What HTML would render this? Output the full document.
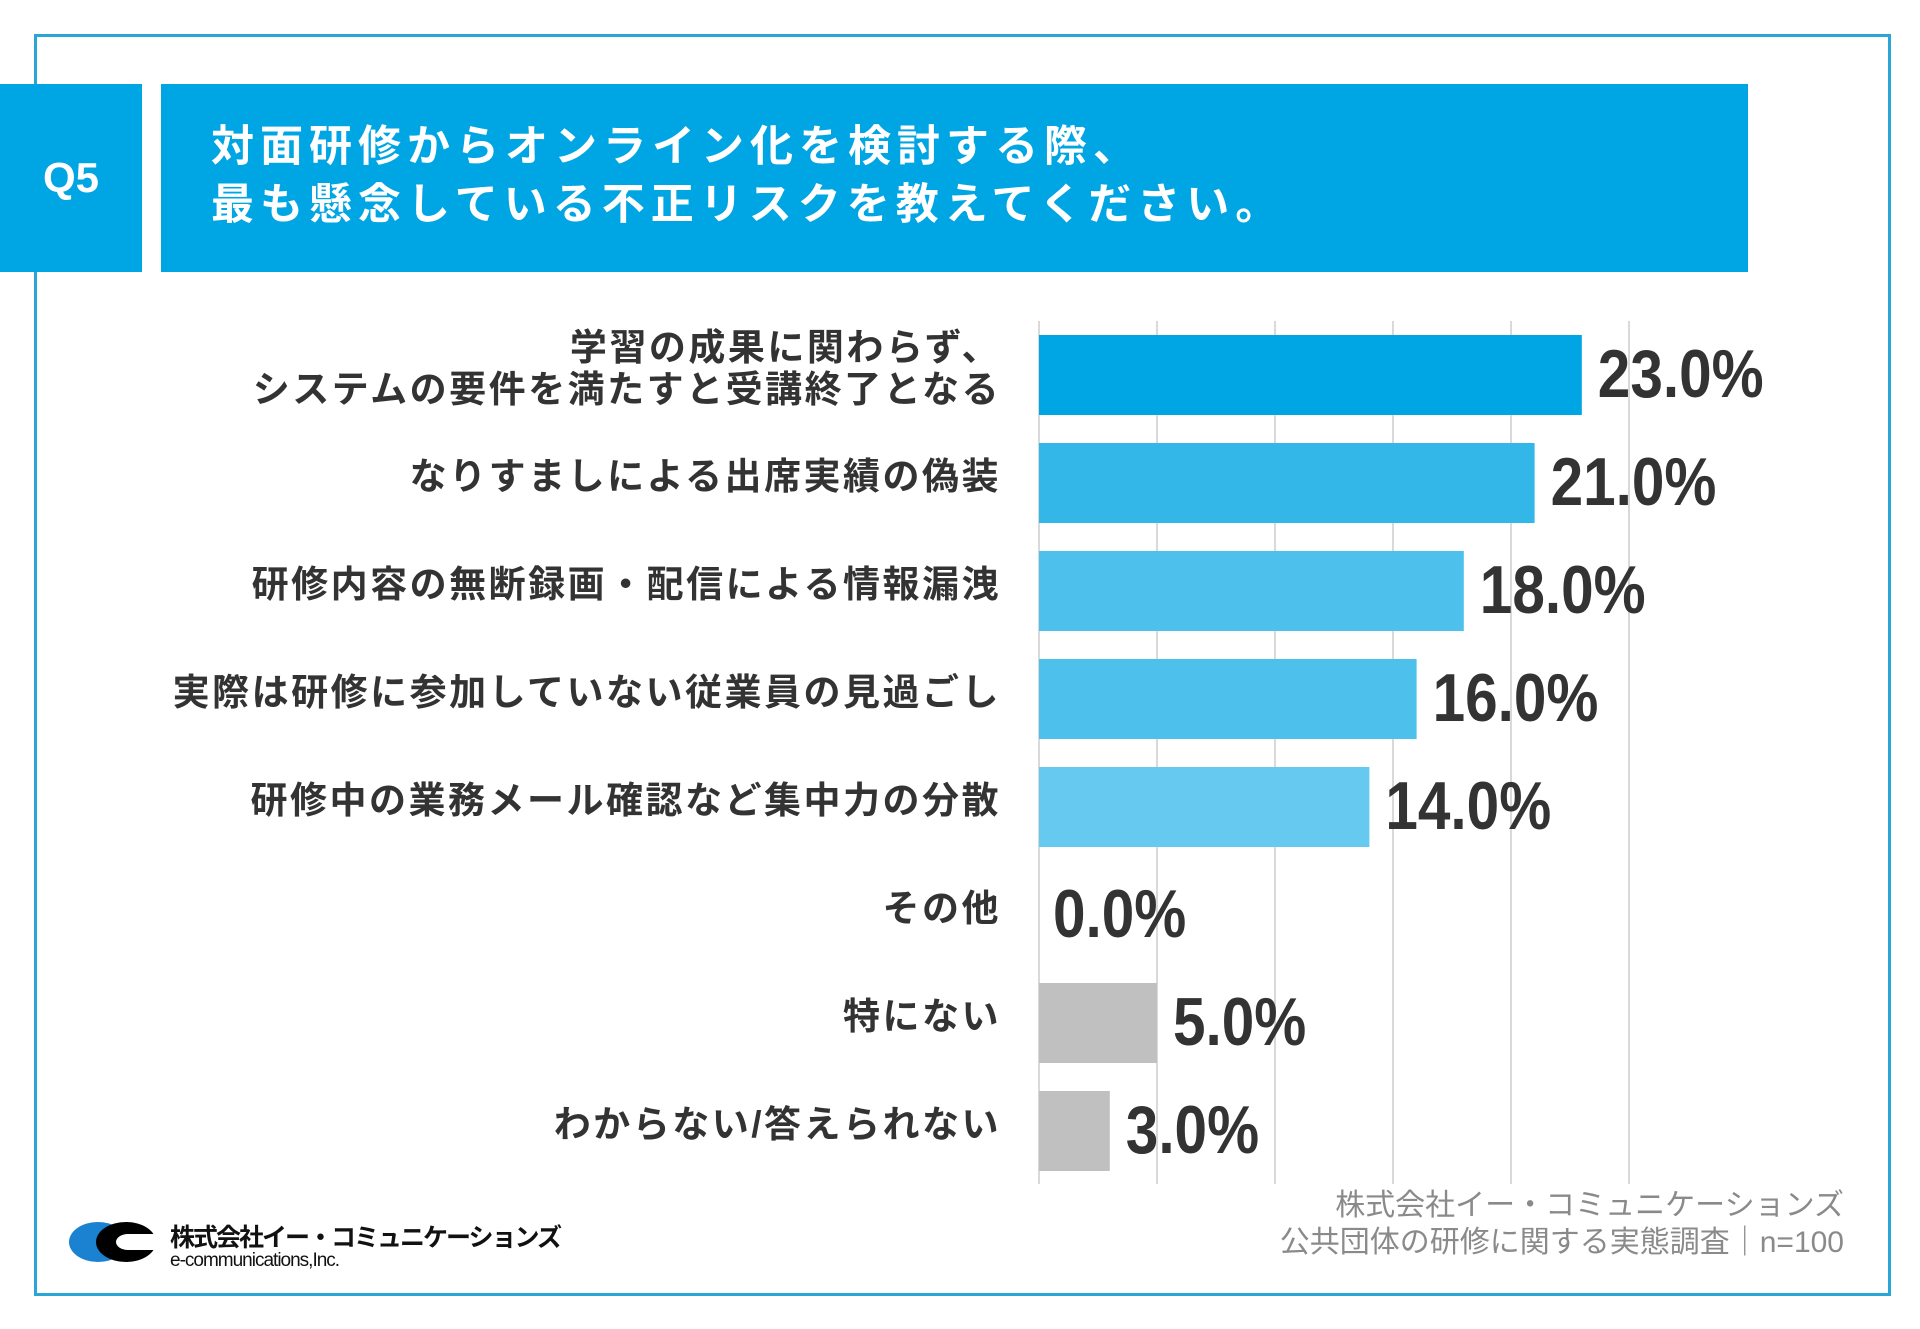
<!DOCTYPE html>
<html><head><meta charset="utf-8">
<style>
html,body{margin:0;padding:0;background:#fff;}
body{width:1920px;height:1329px;position:relative;overflow:hidden;font-family:"Liberation Sans","Noto Sans CJK JP",sans-serif;}
.abs{position:absolute;}
</style></head>
<body>
<div class="abs" style="left:34px;top:34px;width:1857px;height:1262px;border:3px solid #2aa6d6;box-sizing:border-box;"></div>
<div class="abs" style="left:0;top:84px;width:142px;height:188px;background:#00a5e3;color:#fff;font-weight:bold;font-size:42px;display:flex;align-items:center;justify-content:center;">Q5</div>
<div class="abs" style="left:161px;top:84px;width:1587px;height:188px;background:#00a5e3;"></div>
<div class="abs" style="left:211px;top:118px;color:#fff;font-weight:bold;font-size:43px;line-height:58px;letter-spacing:6px;font-family:'Liberation Sans','Noto Sans CJK JP',sans-serif;white-space:nowrap;">対面研修からオンライン化を検討する際、<br>最も懸念している不正リスクを教えてください。</div>

<svg class="abs" style="left:0;top:0" width="1920" height="1329">
<g id="grid"></g><g id="bars"></g><g id="labels"></g><g id="values"></g>
</svg>

<div class="abs" style="right:76px;top:1187px;text-align:right;color:#8a8a8a;font-size:30px;line-height:37px;font-family:'Liberation Sans','Noto Sans CJK JP',sans-serif;white-space:nowrap;">株式会社イー・コミュニケーションズ<br>公共団体の研修に関する実態調査｜n=100</div>

<div class="abs" style="left:68px;top:1218px;width:500px;height:60px;">
<svg width="100" height="50" style="position:absolute;left:0;top:0">
<ellipse cx="30" cy="24" rx="29" ry="20" fill="#1a82d0"/>
<ellipse cx="58" cy="24" rx="30" ry="20" fill="#000"/>
<ellipse cx="60" cy="24" rx="12" ry="8" fill="#fff"/>
<rect x="60" y="16" width="40" height="16" fill="#fff"/>
</svg>
<div style="position:absolute;left:102px;top:0;font-size:25px;font-weight:bold;color:#111;font-family:'Liberation Sans','Noto Sans CJK JP',sans-serif;white-space:nowrap;letter-spacing:-2px;">株式会社イー・コミュニケーションズ</div>
<div style="position:absolute;left:102px;top:32px;font-size:19px;color:#111;white-space:nowrap;letter-spacing:-1px;">e-communications,Inc.</div>
</div>

<script>
const categories=["学習の成果に関わらず、|システムの要件を満たすと受講終了となる","なりすましによる出席実績の偽装","研修内容の無断録画・配信による情報漏洩","実際は研修に参加していない従業員の見過ごし","研修中の業務メール確認など集中力の分散","その他","特にない","わからない/答えられない"];
const values=[23,21,18,16,14,0,5,3];
const valueLabels=["23.0%","21.0%","18.0%","16.0%","14.0%","0.0%","5.0%","3.0%"];
const barColors=["#00a5e3","#33b7e8","#4dc1ec","#4dc1ec","#66c9f0","#66c9f0","#c0c0c0","#c0c0c0"];
const gridTicks=[0,5,10,15,20,25];

const NS="http://www.w3.org/2000/svg";
const x0=1039, pxPer=23.6, rowTop=335, rowH=108, barH=80;
const xs=v=>x0+v*pxPer;
const ys=i=>rowTop+i*rowH;
function mk(t,a){const e=document.createElementNS(NS,t);for(const k in a)e.setAttribute(k,a[k]);return e;}
const gG=document.getElementById('grid'),gB=document.getElementById('bars'),gL=document.getElementById('labels'),gV=document.getElementById('values');
gridTicks.forEach(t=>{
  const l=mk('line',{x1:xs(t),x2:xs(t),y1:321,y2:1184,stroke:'#d9d9d9','stroke-width':2});
  
  
  gG.appendChild(l);
});
values.forEach((v,i)=>{
  const y=ys(i);
  if(v>0){
    const r=mk('rect',{x:x0,y:y,width:xs(v)-x0,height:barH,fill:barColors[i]});
    
    
    gB.appendChild(r);
  }
  const tx=xs(v)+(v>0?16:14);
  const tv=mk('text',{x:0,y:0,'font-size':68,'font-weight':'bold',fill:'#333','font-family':"'Liberation Sans Narrow','Liberation Sans',sans-serif",transform:`translate(${tx},${y+barH/2+22}) scale(0.86,1)`});
  tv.textContent=valueLabels[i];
  
  
  gV.appendChild(tv);
  const lines=categories[i].split('|');
  lines.forEach((ln,j)=>{
    const cy=y+barH/2+(j-(lines.length-1)/2)*42+6;
    const tl=mk('text',{x:1001,y:cy,'text-anchor':'end','font-size':37,'font-weight':'bold',fill:'#333','letter-spacing':'2.5','font-family':"'Liberation Sans','Noto Sans CJK JP',sans-serif"});
    tl.textContent=ln;
    
    
    gL.appendChild(tl);
  });
});
</script>
</body></html>
